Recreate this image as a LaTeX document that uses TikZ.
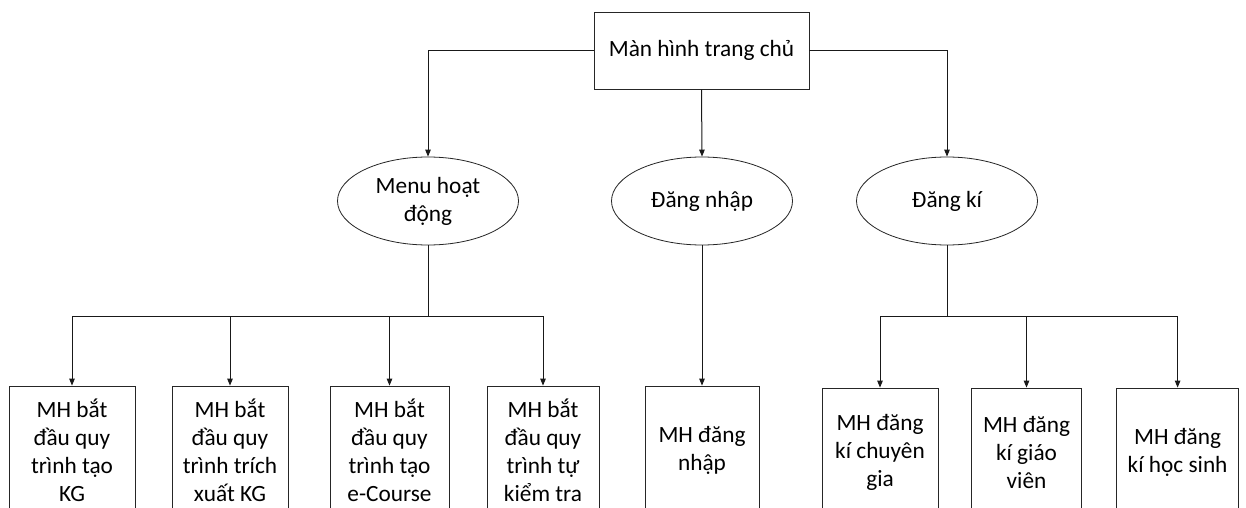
\documentclass[tikz,border=0pt]{standalone}
\usepackage{fontspec}
\setmainfont{Carlito}
\usetikzlibrary{shapes.geometric,arrows.meta}
\begin{document}
\begin{tikzpicture}[x=1pt,y=1pt,
  every node/.style={font=\fontsize{23.3}{28}\selectfont, align=center, inner sep=0pt},
  rbox/.style={draw=black!85, line width=0.8pt, rectangle, minimum height=128pt},
  oval/.style={draw=black!85, line width=0.8pt, ellipse, minimum width=181pt, minimum height=88pt},
  conn/.style={draw=black!90, line width=1pt},
  arr/.style={conn, -{Triangle[length=7pt,width=5.5pt]}}
]
\clip (0,0) rectangle (1246,-508);
\fill[white] (0,0) rectangle (1246,-508);
% top
\node[rbox, minimum width=215pt, minimum height=77pt] (top) at (701.5,-50.7) {Màn hình trang chủ};
% ellipses
\node[oval] (e1) at (428,-201) {Menu hoạt\\động};
\node[oval] (e2) at (702,-201) {Đăng nhập};
\node[oval] (e3) at (947,-201) {Đăng kí};
% bottom boxes
\node[rbox, minimum width=126pt] (b1) at (72,-450) {MH bắt\\đầu quy\\trình tạo\\KG};
\node[rbox, minimum width=116pt] (b2) at (230,-450) {MH bắt\\đầu quy\\trình trích\\xuất KG};
\node[rbox, minimum width=119pt] (b3) at (389.5,-450) {MH bắt\\đầu quy\\trình tạo\\e-Course};
\node[rbox, minimum width=112pt] (b4) at (543,-450) {MH bắt\\đầu quy\\trình tự\\kiểm tra};
\node[rbox, minimum width=114pt] (b5) at (702,-450) {MH đăng\\nhập};
\node[rbox, minimum width=116pt] (b6) at (880,-452) {MH đăng\\kí chuyên\\gia};
\node[rbox, minimum width=110pt] (b7) at (1026.5,-452) {MH đăng\\kí giáo\\viên};
\node[rbox, minimum width=122pt] (b8) at (1177.6,-452) {MH đăng\\kí học sinh};
% top connectors
\draw[arr] (top.west) -| (e1.north);
\draw[arr] (top.east) -| (e3.north);
\draw[arr] (top.south) -- (e2.north);
% bars
\coordinate (bar) at (0,-316);
\draw[conn] (e1.south) -- (e1.south |- bar);
\draw[conn] (b1.north |- bar) -- (b4.north |- bar);
\foreach \b in {b1,b2,b3,b4}{\draw[arr] (\b.north |- bar) -- (\b.north);}
\draw[arr] (e2.south) -- (b5.north);
\draw[conn] (e3.south) -- (e3.south |- bar);
\draw[conn] (b6.north |- bar) -- (b8.north |- bar);
\foreach \b in {b6,b7,b8}{\draw[arr] (\b.north |- bar) -- (\b.north);}
\end{tikzpicture}
\end{document}
